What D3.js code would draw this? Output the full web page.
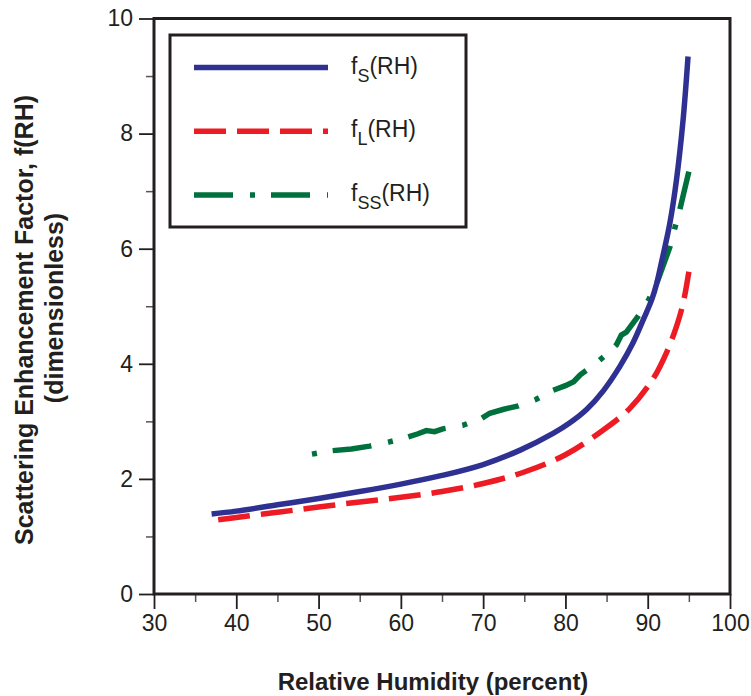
<!DOCTYPE html>
<html>
<head>
<meta charset="utf-8">
<script src="https://cdn.jsdelivr.net/npm/d3@7"></script>
<style>
  body { margin: 0; background: #fff; }
  svg text { font-family: "Liberation Sans", Arial, Helvetica, sans-serif; fill: #231f20; }
</style>
</head>
<body>
<div id="chart"></div>
<script>
// relative humidity (percent) and enhancement factor
const sRH  = [37.0, 40, 45, 50, 55, 60, 65, 70, 74.5, 78.5, 80.5, 82.6, 84.6, 86.6, 88.2, 89.5, 90.5, 91.1, 91.7, 92.7, 93.5, 94.3, 94.9];
const sVal = [1.39, 1.44, 1.55, 1.66, 1.78, 1.91, 2.06, 2.25, 2.50, 2.79, 2.97, 3.21, 3.53, 3.95, 4.36, 4.78, 5.12, 5.40, 5.78, 6.45, 7.20, 8.24, 9.34];

const lRH  = [37.8, 40, 45, 50, 55, 60, 65, 70, 75, 80, 84.6, 87.8, 90.7, 92.3, 93.5, 94.3, 95.0];
const lVal = [1.29, 1.33, 1.42, 1.51, 1.60, 1.68, 1.78, 1.92, 2.12, 2.42, 2.85, 3.22, 3.75, 4.20, 4.65, 5.05, 5.60];

const ssRH  = [49.2, 51.6, 54, 56.2, 58.5, 60.7, 62, 63.1, 64.1, 65.1, 67.5, 69.8, 70.8, 72.5, 74.3, 76.4, 78.5, 80, 81.0, 81.8, 83, 84.2, 85.3, 86.2, 86.8, 87.4, 88.8, 90.1, 91.1, 92.7, 93.3, 93.9, 95.0];
const ssVal = [2.43, 2.49, 2.52, 2.57, 2.64, 2.72, 2.78, 2.84, 2.82, 2.87, 2.93, 3.05, 3.14, 3.21, 3.27, 3.38, 3.54, 3.62, 3.69, 3.81, 3.93, 4.07, 4.20, 4.33, 4.50, 4.55, 4.82, 5.11, 5.40, 6.03, 6.36, 6.68, 7.34];

const xTicks = [30, 40, 50, 60, 70, 80, 90, 100];
const yTicks = [0, 2, 4, 6, 8, 10];
const seriesNames = ["S", "L", "SS"];

const svgWidth = 751, svgHeight = 696;
const plotLeft = 154, plotRight = 730, plotTop = 18.5, plotBottom = 594;

const svg = d3.select("#chart").append("svg")
    .attr("width", svgWidth)
    .attr("height", svgHeight);

const x = d3.scaleLinear().domain([30, 100]).range([plotLeft, plotRight]);
const y = d3.scaleLinear().domain([0, 10]).range([plotBottom, plotTop]);

// minor ticks
svg.append("g")
    .attr("transform", "translate(0," + plotBottom + ")")
    .call(d3.axisBottom(x).tickValues(d3.range(35, 100, 10)).tickSize(8).tickFormat(""))
    .call(g => g.select(".domain").remove())
    .call(g => g.selectAll("line").attr("stroke", "#555").attr("stroke-width", 1.5));
svg.append("g")
    .attr("transform", "translate(" + plotLeft + ",0)")
    .call(d3.axisLeft(y).tickValues(d3.range(1, 10, 2)).tickSize(8).tickFormat(""))
    .call(g => g.select(".domain").remove())
    .call(g => g.selectAll("line").attr("stroke", "#555").attr("stroke-width", 1.5));

// major ticks
let xAxis = svg.append("g")
    .attr("transform", "translate(0," + plotBottom + ")")
    .call(d3.axisBottom(x).tickValues(xTicks).tickSize(15).tickPadding(6).tickFormat(d3.format("d")));
xAxis.select(".domain").remove();
xAxis.selectAll("line").attr("stroke", "#231f20").attr("stroke-width", 1.8);
xAxis.selectAll("text").attr("font-size", 23).attr("fill", "#231f20");

let yAxis = svg.append("g")
    .attr("transform", "translate(" + plotLeft + ",0)")
    .call(d3.axisLeft(y).tickValues(yTicks).tickSize(15).tickPadding(6).tickFormat(d3.format("d")));
yAxis.select(".domain").remove();
yAxis.selectAll("line").attr("stroke", "#231f20").attr("stroke-width", 1.8);
yAxis.selectAll("text").attr("font-size", 23).attr("fill", "#231f20");

// frame
svg.append("rect")
    .attr("x", plotLeft).attr("y", plotTop)
    .attr("width", plotRight - plotLeft).attr("height", plotBottom - plotTop)
    .attr("fill", "none").attr("stroke", "#231f20").attr("stroke-width", 3);

// curves
const line = d3.line().x(d => x(d[0])).y(d => y(d[1]));
const smooth = d3.line().x(d => x(d[0])).y(d => y(d[1])).curve(d3.curveCatmullRom);

const styles = {
  S:  {color: "#2e3192", dash: null, offset: 0},
  L:  {color: "#ed1c24", dash: "32,11", offset: 0},
  SS: {color: "#00703c", dash: "39,17,5,16", offset: 56}
};

svg.append("path")
    .datum(d3.zip(lRH, lVal))
    .attr("d", smooth)
    .attr("fill", "none")
    .attr("stroke", styles.L.color)
    .attr("stroke-width", 5.5)
    .attr("stroke-dasharray", styles.L.dash);

svg.append("path")
    .datum(d3.zip(ssRH, ssVal))
    .attr("d", line)
    .attr("fill", "none")
    .attr("stroke", styles.SS.color)
    .attr("stroke-width", 5.5)
    .attr("stroke-dasharray", styles.SS.dash)
    .attr("stroke-dashoffset", styles.SS.offset);

svg.append("path")
    .datum(d3.zip(sRH, sVal))
    .attr("d", smooth)
    .attr("fill", "none")
    .attr("stroke", styles.S.color)
    .attr("stroke-width", 5.5);

// legend
svg.append("rect")
    .attr("x", 170).attr("y", 35)
    .attr("width", 296).attr("height", 192)
    .attr("fill", "#fff").attr("stroke", "#231f20").attr("stroke-width", 3);

seriesNames.forEach(function(name, i) {
    let ly = 67.5 + i * 63.7;
    svg.append("line")
        .attr("x1", 194).attr("x2", 328)
        .attr("y1", ly).attr("y2", ly)
        .attr("stroke", styles[name].color)
        .attr("stroke-width", 5.5)
        .attr("stroke-dasharray", styles[name].dash);
    let t = svg.append("text")
        .attr("x", 351)
        .attr("y", ly + 6)
        .attr("font-size", 23);
    t.append("tspan").text("f");
    t.append("tspan").attr("font-size", 18).attr("dy", 8).text(name);
    t.append("tspan").attr("dy", -8).text("(RH)");
});

// axis titles
svg.append("text")
    .attr("x", 433).attr("y", 690)
    .attr("text-anchor", "middle")
    .attr("font-size", 24)
    .attr("font-weight", "bold")
    .text("Relative Humidity (percent)");

svg.append("text")
    .attr("transform", "translate(33,320) rotate(-90)")
    .attr("text-anchor", "middle")
    .attr("font-size", 25)
    .attr("font-weight", "bold")
    .text("Scattering Enhancement Factor, f(RH)");

svg.append("text")
    .attr("transform", "translate(63,308) rotate(-90)")
    .attr("text-anchor", "middle")
    .attr("font-size", 25)
    .attr("font-weight", "bold")
    .text("(dimensionless)");
</script>
</body>
</html>
